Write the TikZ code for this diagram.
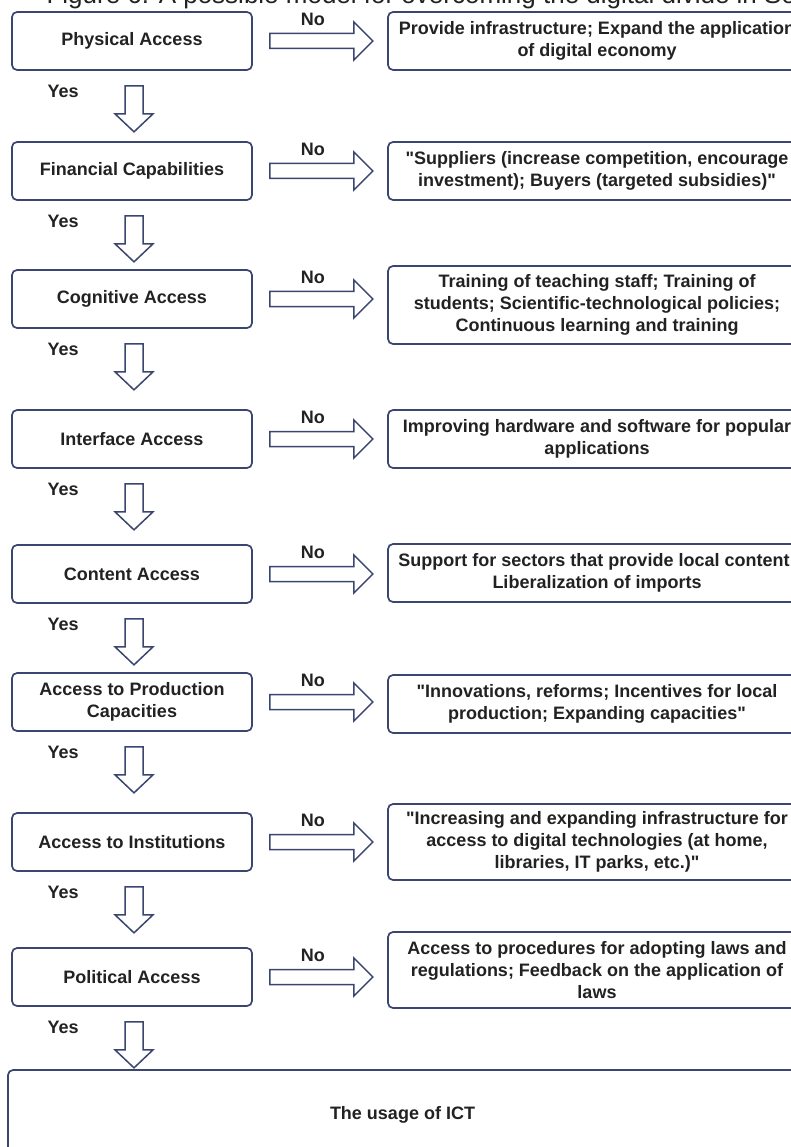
\documentclass[tikz,border=0pt]{standalone}
\usepackage{fontspec}
\setmainfont{Liberation Sans}[Ligatures=TeXOff]
\usetikzlibrary{calc}
\definecolor{edge}{HTML}{3B4670}
\definecolor{ink}{HTML}{222222}
\newcommand{\dq}{\symbol{34}}
\tikzset{
  base/.style={font=\bfseries\fontsize{18}{22}\selectfont, text=ink},
  lbox/.style={base, draw=edge, line width=1.7pt, rounded corners=5pt, minimum width=240pt, minimum height=58pt, align=center, inner sep=0pt},
  rbox/.style={base, draw=edge, line width=1.7pt, rounded corners=5pt, minimum width=418pt, minimum height=58pt, align=center, inner sep=0pt},
  fat/.style={draw=edge, line width=1.5pt, fill=white, line join=miter},
}
\newcommand{\noarrow}[1]{%
  \draw[fat] ($(#1.east)+(17,-7.5)$) -- ++(84,0) -- ++(0,-11.5) -- ++(19,19) -- ++(-19,19) -- ++(0,-11.5) -- ++(-84,0) -- cycle;}
\newcommand{\yesarrow}[1]{%
  \draw[fat] ($(#1.south)+(-7,15)$) -- ++(0,28) -- ++(-10,0) -- ++(19,18) -- ++(19,-18) -- ++(-10,0) -- ++(0,-28) -- cycle;}
\newcommand{\labels}[1]{%
  \node[base] (no#1) at ($(l#1.north east)+(60,8)$) {No};
  \node[base] (yes#1) at ($(l#1.south west)+(52,21)$) {Yes};}
\begin{document}
\begin{tikzpicture}[x=1pt,y=-1pt]
\useasboundingbox (0,0) rectangle (791,1147);
\clip (0,0) rectangle (791,1147);
\fill[white] (0,0) rectangle (791,1147);
\node[anchor=base west, font=\fontsize{26}{30}\selectfont, text=ink] (title) at (43,4) {Figure 6. A possible model for overcoming the digital divide in So};

\node[lbox] (l1) at (132,41) {Physical Access};
\node[rbox] (r1) at (597,41) {Provide infrastructure; Expand the application\\of digital economy};
\node[lbox] (l2) at (132,171) {Financial Capabilities};
\node[rbox] (r2) at (597,171) {\dq Suppliers (increase competition, encourage\\investment); Buyers (targeted subsidies)\dq};
\node[lbox] (l3) at (132,299) {Cognitive Access};
\node[rbox, minimum height=78pt] (r3) at (597,305) {Training of teaching staff; Training of\\students; Scientific-technological policies;\\Continuous learning and training};
\node[lbox] (l4) at (132,439) {Interface Access};
\node[rbox] (r4) at (597,439) {Improving hardware and software for popular\\applications};
\node[lbox] (l5) at (132,574) {Content Access};
\node[rbox] (r5) at (597,573) {Support for sectors that provide local content;\\Liberalization of imports};
\node[lbox] (l6) at (132,702) {Access to Production\\Capacities};
\node[rbox] (r6) at (597,704) {\dq Innovations, reforms; Incentives for local\\production; Expanding capacities\dq};
\node[lbox] (l7) at (132,842) {Access to Institutions};
\node[rbox, minimum height=76pt] (r7) at (597,842) {\dq Increasing and expanding infrastructure for\\access to digital technologies (at home,\\libraries, IT parks, etc.)\dq};
\node[lbox] (l8) at (132,977) {Political Access};
\node[rbox, minimum height=76pt] (r8) at (597,970) {Access to procedures for adopting laws and\\regulations; Feedback on the application of\\laws};
\node[base, draw=edge, line width=1.7pt, rounded corners=5pt, minimum width=789pt, minimum height=90pt, inner sep=0pt] (ict) at (402.5,1115) {The usage of ICT};

\foreach \i in {1,...,8} {\noarrow{l\i}\labels{\i}\yesarrow{l\i}}
\end{tikzpicture}
\end{document}
